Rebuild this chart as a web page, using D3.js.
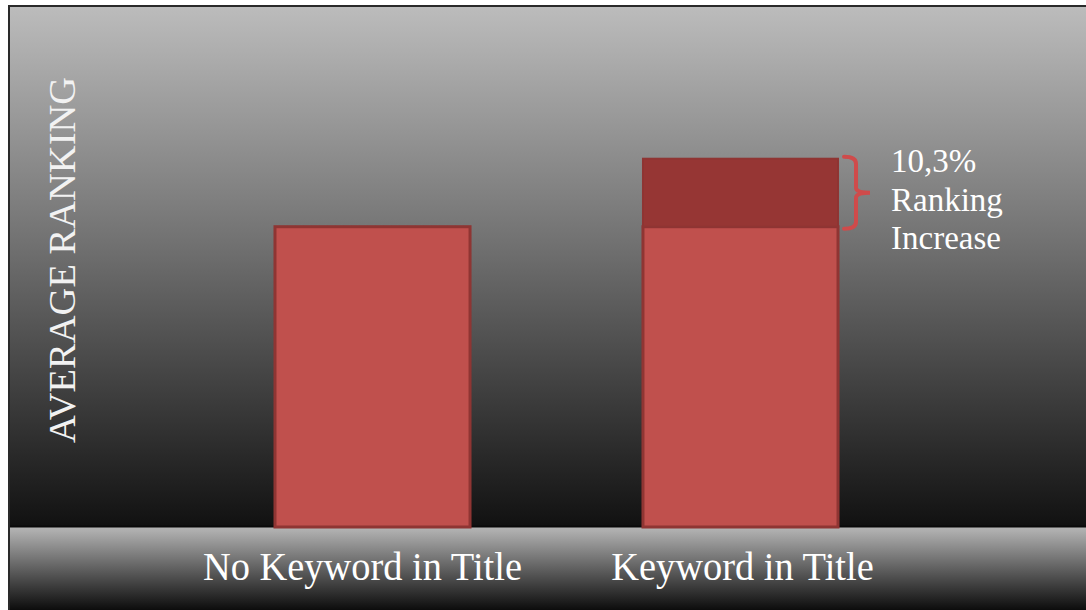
<!DOCTYPE html>
<html>
<head>
<meta charset="utf-8">
<script src="https://cdn.jsdelivr.net/npm/d3@7"></script>
<style>
  html, body { margin: 0; padding: 0; background: #fff; }
  svg { display: block; }
</style>
</head>
<body>
<svg width="1086" height="610"></svg>
<script>
var svg = d3.select('svg');
var svgWidth = +svg.attr('width');
var svgHeight = +svg.attr('height');

// Chart data
var categories = ['No Keyword in Title', 'Keyword in Title'];
var baseRanking = [100, 100];
var extraRanking = [0, 10.3];
var yLabel = 'AVERAGE RANKING';
var noteLines = ['10,3%', 'Ranking', 'Increase'];

// Layout
var frameLeft = 9;
var frameTop = 6;
var plotBottom = 527;

var defs = svg.append('defs');

var plotGrad = defs.append('linearGradient')
    .attr('id', 'plotGrad')
    .attr('x1', 0).attr('y1', 0).attr('x2', 0).attr('y2', 1);
plotGrad.append('stop').attr('offset', '0%').attr('stop-color', '#bcbcbc');
plotGrad.append('stop').attr('offset', '45%').attr('stop-color', '#727272');
plotGrad.append('stop').attr('offset', '100%').attr('stop-color', '#111111');

var bandGrad = defs.append('linearGradient')
    .attr('id', 'bandGrad')
    .attr('x1', 0).attr('y1', 0).attr('x2', 0).attr('y2', 1);
bandGrad.append('stop').attr('offset', '0%').attr('stop-color', '#b6b6b6');
bandGrad.append('stop').attr('offset', '55%').attr('stop-color', '#585858');
bandGrad.append('stop').attr('offset', '100%').attr('stop-color', '#0c0c0c');

// Plot background
svg.append('rect')
    .attr('x', frameLeft)
    .attr('y', frameTop)
    .attr('width', svgWidth - frameLeft + 2)
    .attr('height', plotBottom - frameTop)
    .attr('fill', 'url(#plotGrad)');

// Category band at bottom
svg.append('rect')
    .attr('x', frameLeft)
    .attr('y', plotBottom)
    .attr('width', svgWidth - frameLeft + 2)
    .attr('height', svgHeight - plotBottom)
    .attr('fill', 'url(#bandGrad)');

svg.append('line')
    .attr('x1', frameLeft).attr('x2', svgWidth)
    .attr('y1', plotBottom - 0.5).attr('y2', plotBottom - 0.5)
    .attr('stroke', '#0a0a0a').attr('stroke-width', 2);

// Frame
svg.append('rect')
    .attr('x', frameLeft)
    .attr('y', frameTop)
    .attr('width', svgWidth - frameLeft + 4)
    .attr('height', svgHeight - frameTop + 4)
    .attr('fill', 'none')
    .attr('stroke', '#2a2a2a')
    .attr('stroke-width', 2);

// Scales
var x = d3.scaleBand()
    .domain(categories)
    .range([91, 1022])
    .paddingInner(0.47)
    .paddingOuter(0.5);

var y = d3.scaleLinear()
    .domain([54.5, 134.35])
    .range([plotBottom, 0]);

var barData = categories.map(function(c, i) {
    return {name: c, base: baseRanking[i], extra: extraRanking[i]};
});

var barG = svg.selectAll('.bar')
    .data(barData)
    .enter()
    .append('g')
    .attr('class', 'bar');

barG.append('rect')
    .attr('x', function(d) { return x(d.name); })
    .attr('y', function(d) { return y(d.base); })
    .attr('width', x.bandwidth())
    .attr('height', function(d) { return plotBottom - y(d.base); })
    .attr('fill', '#c0504d')
    .attr('stroke', '#8f3533')
    .attr('stroke-width', 3);

barG.filter(function(d) { return d.extra > 0; })
    .append('rect')
    .attr('x', function(d) { return x(d.name); })
    .attr('y', function(d) { return y(d.base + d.extra); })
    .attr('width', x.bandwidth())
    .attr('height', function(d) { return y(d.base) - y(d.base + d.extra); })
    .attr('fill', '#963634')
    .attr('stroke', '#8f3533')
    .attr('stroke-width', 2);

// Brace showing the increase
var up = barData[1];
var bx = x(up.name) + x.bandwidth() + 6;
var yTop = y(up.base + up.extra) - 2;
var yBot = y(up.base) + 2;
var yMid = (yTop + yBot) / 2;
var stem = bx + 12;
var r = 7;
var bracePath = 'M' + bx + ',' + yTop +
    ' Q' + stem + ',' + yTop + ' ' + stem + ',' + (yTop + r) +
    ' L' + stem + ',' + (yMid - 5) +
    ' Q' + stem + ',' + yMid + ' ' + (stem + 14) + ',' + yMid +
    ' Q' + stem + ',' + yMid + ' ' + stem + ',' + (yMid + 5) +
    ' L' + stem + ',' + (yBot - r) +
    ' Q' + stem + ',' + yBot + ' ' + bx + ',' + yBot;
svg.append('path')
    .attr('d', bracePath)
    .attr('fill', 'none')
    .attr('stroke', '#cf4b4b')
    .attr('stroke-width', 4)
    .attr('stroke-linecap', 'round');

svg.selectAll('.note')
    .data(noteLines)
    .enter()
    .append('text')
    .attr('class', 'note')
    .attr('x', 891)
    .attr('y', function(d, i) { return 172 + i * 38.5; })
    .text(function(d) { return d; })
    .style('fill', '#ffffff')
    .style('font-size', '33px')
    .style('font-family', 'Liberation Serif, serif');

// Y axis label
svg.append('text')
    .attr('transform', 'translate(' + [75, 260] + ') rotate(-90)')
    .text(yLabel)
    .style('text-anchor', 'middle')
    .style('fill', '#f2f2f2')
    .style('font-size', '38.5px')
    .style('font-family', 'Liberation Serif, serif');

// Category labels (first one sits a little left of its bar)
svg.selectAll('.cat')
    .data(categories)
    .enter()
    .append('text')
    .attr('class', 'cat')
    .attr('transform', function(d, i) {
        var cx = x(d) + x.bandwidth() / 2 + (i == 0 ? -10 : 2);
        return 'translate(' + [cx, 580] + ') scale(0.985,1)';
    })
    .text(function(d) { return d; })
    .style('text-anchor', 'middle')
    .style('fill', '#ffffff')
    .style('font-size', '39px')
    .style('font-family', 'Liberation Serif, serif');
</script>
</body>
</html>
